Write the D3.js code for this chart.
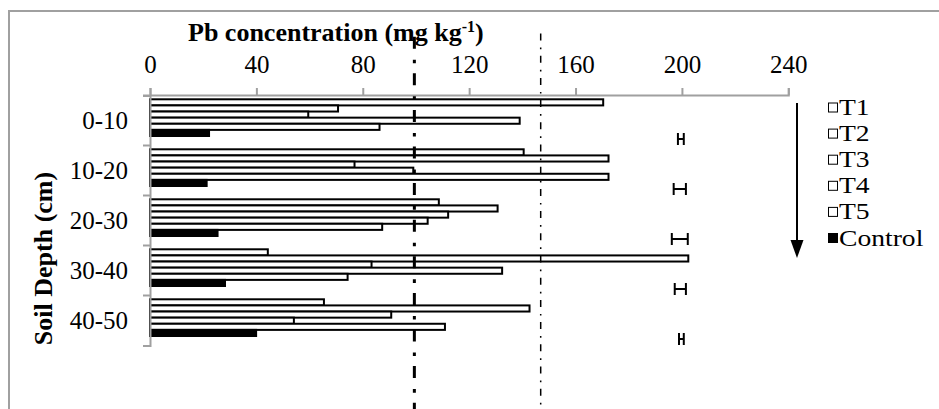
<!DOCTYPE html>
<html>
<head>
<meta charset="utf-8">
<script src="https://cdn.jsdelivr.net/npm/d3@7"></script>
<style>
  body { margin: 0; background: #fff; }
</style>
</head>
<body>
<div class="viz"></div>
<script>
// values (mg/kg)
const depths = ["0-10", "10-20", "20-30", "30-40", "40-50"];
const seriesNames = ["T1", "T2", "T3", "T4", "T5", "Control"];
const T1 = [170.4, 140.5, 108.6, 44.3, 65.4];
const T2 = [70.7, 172.4, 130.7, 202.4, 142.7];
const T3 = [59.5, 76.9, 112.1, 83.3, 90.7];
const T4 = [139.0, 99.0, 104.4, 132.4, 54.1];
const T5 = [86.3, 172.4, 87.3, 74.3, 110.9];
const Control = [22.2, 21.3, 25.4, 28.2, 39.9];
const errMean = [199.6, 199.2, 199.2, 199.4, 199.8];
const errHalf = [1.1, 2.3, 3.0, 2.1, 0.9];
const refLines = [99.4, 146.9];
const xTicks = [0, 40, 80, 120, 160, 200, 240];

const seriesValues = [T1, T2, T3, T4, T5, Control];

const dimensions = { width: 939, height: 409 };
const axisGray = "#a0a0a0";
const serif = '"Liberation Serif", "Times New Roman", serif';

const wrapper = d3.select(".viz")
    .append("svg")
    .attr("width", dimensions.width)
    .attr("height", dimensions.height);

// chart frame (runs off the right and bottom edge)
wrapper.append("rect")
    .attr("x", 9).attr("y", 11)
    .attr("width", 960).attr("height", 420)
    .attr("fill", "none")
    .attr("stroke", axisGray)
    .attr("stroke-width", 2);

// scales
const xScale = d3.scaleLinear().domain([0, 240]).range([150, 788.3]);
const yBand = d3.scaleBand().domain(depths).range([95.5, 345.5]);
const ySeries = d3.scaleBand().domain(seriesNames).range([3.8, 40.5]);

// bars
seriesNames.forEach((name, si) => {
    const isControl = name === "Control";
    wrapper.append("g")
        .selectAll("rect")
        .data(seriesValues[si])
        .join("rect")
        .attr("x", xScale(0))
        .attr("y", (d, i) => yBand(depths[i]) + ySeries(name))
        .attr("width", d => xScale(d) - xScale(0))
        .attr("height", ySeries.bandwidth())
        .attr("fill", isControl ? "#000" : "#fff")
        .attr("stroke", "#000")
        .attr("stroke-width", 2);
});

// error bars
const errG = wrapper.append("g").attr("stroke", "#000").attr("stroke-width", 2);
depths.forEach((dep, i) => {
    const cy = yBand(dep) + 43.5;
    const x1 = xScale(errMean[i] - errHalf[i]);
    const x2 = xScale(errMean[i] + errHalf[i]);
    errG.append("line").attr("x1", x1).attr("x2", x2).attr("y1", cy).attr("y2", cy);
    errG.append("line").attr("x1", x1).attr("x2", x1).attr("y1", cy - 6).attr("y2", cy + 6);
    errG.append("line").attr("x1", x2).attr("x2", x2).attr("y1", cy - 6).attr("y2", cy + 6);
});

// x axis on top
const xAxis = wrapper.append("g")
    .attr("transform", `translate(0,${95})`)
    .call(d3.axisTop(xScale).tickValues(xTicks).tickSize(7).tickPadding(15));
xAxis.attr("font-family", null).attr("font-size", null);
xAxis.select(".domain").attr("stroke", axisGray).attr("stroke-width", 2);
xAxis.selectAll(".tick line").attr("stroke", axisGray).attr("stroke-width", 2);
xAxis.selectAll("text")
    .style("font-family", serif)
    .style("font-size", "25px")
    .attr("fill", "#000");

// y axis with ticks at band edges
const yAxis = wrapper.append("g")
    .attr("transform", `translate(${150},0)`)
    .call(d3.axisLeft(yBand).tickSize(0).tickPadding(22).tickSizeOuter(7));
yAxis.attr("font-family", null).attr("font-size", null);
yAxis.select(".domain").attr("stroke", axisGray).attr("stroke-width", 2);
yAxis.selectAll("text")
    .style("font-family", serif)
    .style("font-size", "25px")
    .attr("fill", "#000");
yAxis.selectAll(".edge")
    .data(depths)
    .join("line")
    .attr("class", "edge")
    .attr("x1", -7).attr("x2", 0)
    .attr("y1", d => yBand(d)).attr("y2", d => yBand(d))
    .attr("stroke", axisGray)
    .attr("stroke-width", 2);

// reference lines
wrapper.append("line")
    .attr("x1", xScale(refLines[0])).attr("x2", xScale(refLines[0]))
    .attr("y1", 36.7).attr("y2", 420)
    .attr("stroke", "#000").attr("stroke-width", 3)
    .attr("stroke-dasharray", "12,11,3.6,10");
wrapper.append("line")
    .attr("x1", xScale(refLines[1])).attr("x2", xScale(refLines[1]))
    .attr("y1", 33.5).attr("y2", 420)
    .attr("stroke", "#000").attr("stroke-width", 1.5)
    .attr("stroke-dasharray", "7,7,1.7,6.5");

// axis titles
const xTitle = wrapper.append("text")
    .attr("x", 188).attr("y", 41)
    .style("font-family", serif)
    .style("font-size", "26px")
    .style("font-weight", "bold");
xTitle.append("tspan").text("Pb concentration (mg kg");
xTitle.append("tspan").attr("dy", -9).style("font-size", "16px").text("-1");
xTitle.append("tspan").attr("dy", 9).text(")");

wrapper.append("text")
    .attr("transform", `translate(${52},${258.5}) rotate(-90)`)
    .attr("text-anchor", "middle")
    .style("font-family", serif)
    .style("font-size", "26px")
    .style("font-weight", "bold")
    .text("Soil Depth (cm)");

// legend
const legend = wrapper.append("g");
seriesNames.forEach((name, i) => {
    const base = 115 + i * 26.1;
    legend.append("rect")
        .attr("x", 828.5).attr("y", base - 12)
        .attr("width", 9).attr("height", 9)
        .attr("fill", name === "Control" ? "#000" : "#fff")
        .attr("stroke", "#000").attr("stroke-width", 1);
    legend.append("text")
        .attr("transform", `translate(${839},${base}) scale(1.2,1)`)
        .style("font-family", serif)
        .style("font-size", "23px")
        .text(name);
});

// depth arrow
wrapper.append("line")
    .attr("x1", 797).attr("x2", 797)
    .attr("y1", 103).attr("y2", 242)
    .attr("stroke", "#000").attr("stroke-width", 2);
wrapper.append("path")
    .attr("d", "M790.5,240 L803.5,240 L797,258 Z")
    .attr("fill", "#000");
</script>
</body>
</html>
